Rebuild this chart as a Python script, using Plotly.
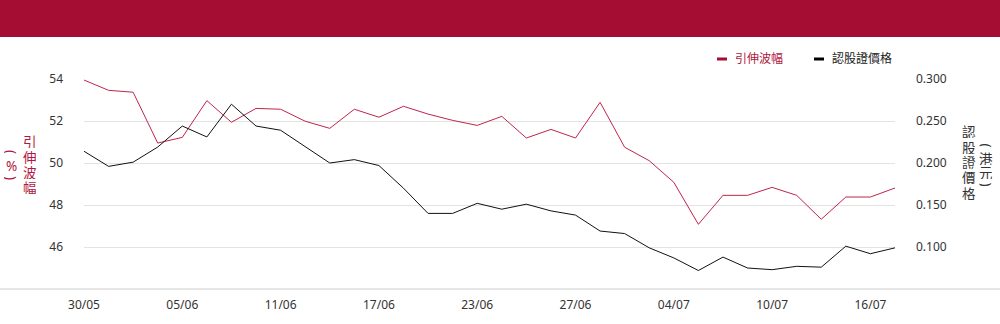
import plotly.graph_objects as go

dates = ["30/05", "02/06", "03/06", "04/06", "05/06", "06/06", "09/06", "10/06", "11/06",
         "12/06", "13/06", "16/06", "17/06", "18/06", "19/06", "20/06", "23/06", "24/06",
         "25/06", "26/06", "27/06", "30/06", "02/07", "03/07", "04/07", "07/07", "08/07",
         "09/07", "10/07", "11/07", "14/07", "15/07", "16/07", "17/07"]

implied_vol = [53.95, 53.46, 53.37, 50.95, 51.22, 52.97, 51.94, 52.60, 52.56,
               51.99, 51.65, 52.56, 52.18, 52.70, 52.33, 52.03, 51.79, 52.22,
               51.19, 51.60, 51.19, 52.89, 50.75, 50.11, 49.08, 47.08, 48.46,
               48.46, 48.84, 48.46, 47.32, 48.38, 48.38, 48.81]

warrant_price = [0.214, 0.196, 0.201, 0.219, 0.244, 0.231, 0.270, 0.244, 0.239,
                 0.219, 0.200, 0.204, 0.197, 0.170, 0.140, 0.140, 0.152, 0.145,
                 0.151, 0.143, 0.138, 0.119, 0.116, 0.099, 0.087, 0.072, 0.088,
                 0.075, 0.073, 0.077, 0.076, 0.101, 0.092, 0.099]

tick_dates = dates[::4]
left_ticks = [46, 48, 50, 52, 54]
right_ticks = [0.10, 0.15, 0.20, 0.25, 0.30]

RED = "#A50E32"
TITLE_RED = "#B01840"
LINE_RED = "#C0244C"
FONT = "Noto Sans, Noto Sans CJK TC, sans-serif"

W, H = 1000, 324
L, R, T, B = 84, 105, 79, 35
PW, PH = W - L - R, H - T - B


def px(x):
    return (x - L) / PW


def py(y):
    return (H - B - y) / PH


fig = go.Figure()
fig.add_trace(go.Scatter(x=dates, y=implied_vol, mode="lines", name="引伸波幅",
                         line=dict(color=LINE_RED, width=1), yaxis="y", showlegend=False))
fig.add_trace(go.Scatter(x=dates, y=warrant_price, mode="lines", name="認股證價格",
                         line=dict(color="#111111", width=1), yaxis="y2", showlegend=False))

shapes = [
    dict(type="rect", xref="paper", yref="paper", x0=px(0), x1=px(W), y0=py(37), y1=py(0),
         fillcolor=RED, line=dict(width=0), layer="below"),
    dict(type="line", xref="paper", yref="paper", x0=px(0), x1=px(W), y0=0, y1=0,
         line=dict(color="#cccccc", width=1)),
    dict(type="rect", xref="paper", yref="paper", x0=px(717), x1=px(727), y0=py(60.5), y1=py(57.5),
         fillcolor=RED, line=dict(width=0)),
    dict(type="rect", xref="paper", yref="paper", x0=px(814), x1=px(824), y0=py(60.5), y1=py(57.5),
         fillcolor="#000000", line=dict(width=0)),
]

annotations = [
    dict(text="引伸波幅", x=px(733), y=py(59), xref="paper", yref="paper", xanchor="left",
         yanchor="middle", showarrow=False, font=dict(size=12, color=TITLE_RED, family=FONT)),
    dict(text="認股證價格", x=px(830), y=py(59), xref="paper", yref="paper", xanchor="left",
         yanchor="middle", showarrow=False, font=dict(size=12, color="#222222", family=FONT)),
]


def col(chars, xc, ys, color, angles=None):
    for i, (c, yc) in enumerate(zip(chars, ys)):
        a = angles[i] if angles else 0
        annotations.append(dict(text=c, x=px(xc), y=py(yc), xref="paper", yref="paper",
                                xanchor="center", yanchor="middle", showarrow=False,
                                textangle=a, height=13, borderpad=0,
                                font=dict(size=13.5, color=color, family=FONT)))


col("引伸波幅", 30, [141.5, 157, 172, 187.5], TITLE_RED)
col(["(", "%", ")"], 11, [152, 165, 178], TITLE_RED, [90, 0, 90])
col("認股證價格", 969, [131.5, 147, 162, 177.5, 193], "#333333")
col(["(", "港", "元", ")"], 986, [145.5, 158.5, 172.5, 184.5], "#333333", [90, 0, 0, 90])

fig.update_layout(
    width=W, height=H,
    margin=dict(l=L, r=R, t=T, b=B, pad=0),
    paper_bgcolor="white", plot_bgcolor="white",
    font=dict(family=FONT, size=12, color="#333333"),
    shapes=shapes, annotations=annotations,
    xaxis=dict(type="category", range=[0, len(dates) - 1], tickmode="array",
               tickvals=tick_dates, ticktext=tick_dates, showgrid=False, zeroline=False,
               showline=False, ticks="", ticklabelstandoff=7,
               tickfont=dict(size=12, color="#333333")),
    yaxis=dict(range=[44, 54], tickvals=left_ticks, showgrid=True, gridcolor="#e3e3e3",
               gridwidth=1, zeroline=False, showline=False, ticks="",
               ticklabelstandoff=20, tickfont=dict(size=12, color="#333333")),
    yaxis2=dict(range=[0.05, 0.30], tickvals=right_ticks, tickformat=".3f", overlaying="y",
                side="right", showgrid=False, zeroline=False, showline=False, ticks="",
                ticklabelstandoff=20, tickfont=dict(size=12, color="#333333")),
)

fig.write_html("out.html", config={"displayModeBar": False},
               post_script="document.body.style.margin='0px';")
